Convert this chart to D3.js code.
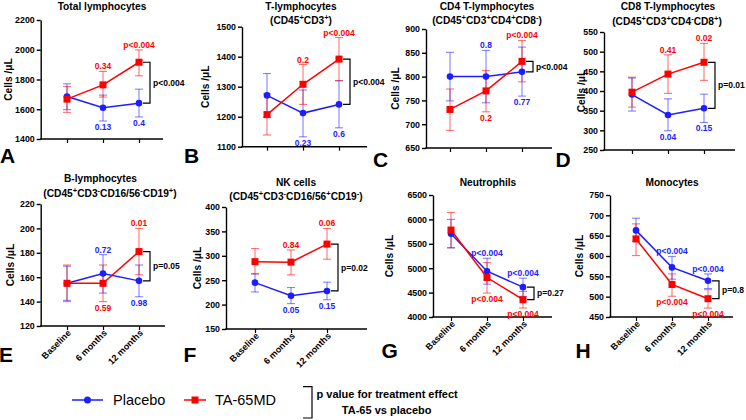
<!DOCTYPE html>
<html><head><meta charset="utf-8">
<script src="https://cdn.jsdelivr.net/npm/d3@7"></script>
<style>
html,body{margin:0;padding:0;background:#fff;}
svg{display:block;font-family:"Liberation Sans",Arial,Helvetica,sans-serif;}
</style></head><body>
<svg id="chart" width="746" height="420"></svg>
<script>
// ---------------- DATA ----------------
const categories = ["Baseline", "6 months", "12 months"];
const seriesNames = ["Placebo", "TA-65MD"];
const panelLetters = ["A", "B", "C", "D", "E", "F", "G", "H"];
const panelTitles = [
  ["Total lymphocytes"],
  ["T-lymphocytes", "(CD45^+CD3^+)"],
  ["CD4 T-lymphocytes", "(CD45^+CD3^+CD4^+CD8^-)"],
  ["CD8 T-lymphocytes", "(CD45^+CD3^+CD4^-CD8^+)"],
  ["B-lymphocytes", "(CD45^+CD3^-CD16/56^-CD19^+)"],
  ["NK cells", "(CD45^+CD3^-CD16/56^+CD19^-)"],
  ["Neutrophils"],
  ["Monocytes"]
];
const yAxisLabel = "Cells /\u03BCL";

const ticksA = [1400, 1600, 1800, 2000, 2200];
const ticksB = [1100, 1200, 1300, 1400, 1500];
const ticksC = [650, 700, 750, 800, 850, 900];
const ticksD = [250, 300, 350, 400, 450, 500, 550];
const ticksE = [120, 140, 160, 180, 200, 220];
const ticksF = [150, 200, 250, 300, 350, 400];
const ticksG = [4000, 4500, 5000, 5500, 6000, 6500];
const ticksH = [450, 500, 550, 600, 650, 700, 750];

// Total lymphocytes
const totalPlacebo = [1686, 1610, 1641], totalPlaceboLo = [1597, 1521, 1548], totalPlaceboHi = [1771, 1695, 1735];
const totalTA65 = [1668, 1764, 1916], totalTA65Lo = [1579, 1682, 1825], totalTA65Hi = [1753, 1854, 1999];
const totalPlaceboP = [null, "0.13", "0.4"], totalTA65P = [null, "0.34", "p<0.004"], totalTreatP = "p<0.004";
// T-lymphocytes
const tPlacebo = [1271, 1212, 1241], tPlaceboLo = [1198, 1133, 1163], tPlaceboHi = [1344, 1289, 1320];
const tTA65 = [1207, 1308, 1392], tTA65Lo = [1139, 1241, 1320], tTA65Hi = [1276, 1374, 1464];
const tPlaceboP = [null, "0.23", "0.6"], tTA65P = [null, "0.2", "p<0.004"], tTreatP = "p<0.004";
// CD4
const cd4Placebo = [800, 800, 810], cd4PlaceboLo = [749, 745, 759], cd4PlaceboHi = [851, 855, 862];
const cd4TA65 = [731, 770, 832], cd4TA65Lo = [687, 726, 789], cd4TA65Hi = [774, 813, 876];
const cd4PlaceboP = [null, "0.8", "0.77"], cd4TA65P = [null, "0.2", "p<0.004"], cd4TreatP = "p<0.004";
// CD8
const cd8Placebo = [391, 339, 356], cd8PlaceboLo = [349, 299, 320], cd8PlaceboHi = [433, 380, 392];
const cd8TA65 = [397, 443, 473], cd8TA65Lo = [359, 394, 427], cd8TA65Hi = [435, 492, 521];
const cd8PlaceboP = [null, "0.04", "0.15"], cd8TA65P = [null, "0.41", "0.02"], cd8TreatP = "p=0.01";
// B-lymphocytes
const bPlacebo = [155, 163, 157], bPlaceboLo = [141, 147, 144], bPlaceboHi = [169, 178.5, 170];
const bTA65 = [155, 155, 181], bTA65Lo = [140, 140, 162], bTA65Hi = [170, 170, 200];
const bPlaceboP = [null, "0.72", "0.98"], bTA65P = [null, "0.59", "0.01"], bTreatP = "p=0.05";
// NK cells
const nkPlacebo = [245, 218, 228], nkPlaceboLo = [226, 202, 210], nkPlaceboHi = [263, 235, 246];
const nkTA65 = [288, 287, 324], nkTA65Lo = [263, 261, 293], nkTA65Hi = [315, 312, 356];
const nkPlaceboP = [null, "0.05", "0.15"], nkTA65P = [null, "0.84", "0.06"], nkTreatP = "p=0.02";
// Neutrophils
const neuPlacebo = [5707, 4938, 4612], neuPlaceboLo = [5415, 4673, 4422], neuPlaceboHi = [6000, 5204, 4796];
const neuTA65 = [5782, 4809, 4354], neuTA65Lo = [5421, 4490, 4184], neuTA65Hi = [6142, 5115, 4524];
const neuPlaceboP = [null, "p<0.004", "p<0.004"], neuTA65P = [null, "p<0.004", "p<0.004"], neuTreatP = "p=0.27";
// Monocytes
const monoPlacebo = [663, 572, 539], monoPlaceboLo = [636, 543, 520], monoPlaceboHi = [693, 599, 556];
const monoTA65 = [642, 530, 495], monoTA65Lo = [601, 501, 472], monoTA65Hi = [679, 556, 517];
const monoPlaceboP = [null, "p<0.004", "p<0.004"], monoTA65P = [null, "p<0.004", "p<0.004"], monoTreatP = "p=0.8";

const legendNote = ["p value for treatment effect", "TA-65 vs placebo"];

// ---------------- BUILD ----------------
const panelData = [
  [ticksA, totalPlacebo, totalPlaceboLo, totalPlaceboHi, totalTA65, totalTA65Lo, totalTA65Hi, totalPlaceboP, totalTA65P, totalTreatP],
  [ticksB, tPlacebo, tPlaceboLo, tPlaceboHi, tTA65, tTA65Lo, tTA65Hi, tPlaceboP, tTA65P, tTreatP],
  [ticksC, cd4Placebo, cd4PlaceboLo, cd4PlaceboHi, cd4TA65, cd4TA65Lo, cd4TA65Hi, cd4PlaceboP, cd4TA65P, cd4TreatP],
  [ticksD, cd8Placebo, cd8PlaceboLo, cd8PlaceboHi, cd8TA65, cd8TA65Lo, cd8TA65Hi, cd8PlaceboP, cd8TA65P, cd8TreatP],
  [ticksE, bPlacebo, bPlaceboLo, bPlaceboHi, bTA65, bTA65Lo, bTA65Hi, bPlaceboP, bTA65P, bTreatP],
  [ticksF, nkPlacebo, nkPlaceboLo, nkPlaceboHi, nkTA65, nkTA65Lo, nkTA65Hi, nkPlaceboP, nkTA65P, nkTreatP],
  [ticksG, neuPlacebo, neuPlaceboLo, neuPlaceboHi, neuTA65, neuTA65Lo, neuTA65Hi, neuPlaceboP, neuTA65P, neuTreatP],
  [ticksH, monoPlacebo, monoPlaceboLo, monoPlaceboHi, monoTA65, monoTA65Lo, monoTA65Hi, monoPlaceboP, monoTA65P, monoTreatP]
];

// layout (positions only)
const layout = [
  {x0: 40.7, x1: 163, c0: 67, yTop: 20, yBot: 139, yLab: 8, tx: [102], ty: [10], lx: 0, ly: 163, bottom: false},
  {x0: 242, x1: 367, c0: 267, yTop: 26.7, yBot: 146.7, yLab: 205, tx: [301, 301], ty: [9.5, 23.5], lx: 184, ly: 163, bottom: false},
  {x0: 426, x1: 552, c0: 450, yTop: 29, yBot: 148, yLab: 395, tx: [487, 487], ty: [10, 23.5], lx: 373, ly: 167, bottom: false},
  {x0: 604, x1: 735, c0: 632, yTop: 32, yBot: 150, yLab: 581, tx: [668, 667], ty: [10, 25], lx: 555.5, ly: 167, bottom: false},
  {x0: 40.7, x1: 165, c0: 67, yTop: 204, yBot: 326, yLab: 10, tx: [100.5, 110], ty: [181.5, 196.5], lx: -1, ly: 362, bottom: true},
  {x0: 226, x1: 367, c0: 255, yTop: 207, yBot: 329, yLab: 197.5, tx: [296, 296], ty: [185.5, 199.5], lx: 183.5, ly: 362, bottom: true},
  {x0: 433, x1: 552, c0: 451, yTop: 195, yBot: 317, yLab: 389, tx: [488], ty: [186], lx: 381.5, ly: 358, bottom: true},
  {x0: 610, x1: 733, c0: 636, yTop: 195, yBot: 317, yLab: 579, tx: [672], ty: [186], lx: 575.5, ly: 358, bottom: true}
];

const BLUE = "#1d1dff", RED = "#ff0000";
const svg = d3.select("#chart");

function richText(sel, str) {
  const parts = str.split(/\^([+\-])/);
  let shifted = false;
  parts.forEach((p, i) => {
    if (i % 2 === 0) {
      if (p === "") return;
      const t = sel.append("tspan").text(p);
      if (shifted) { t.attr("dy", 4); shifted = false; }
    } else {
      const t = sel.append("tspan").text(p === "-" ? "-" : "+").attr("font-size", 7.5);
      t.attr("dy", shifted ? 0 : -4);
      shifted = true;
    }
  });
}

panelData.forEach((d, pi) => {
  const [ticks, pM, pLo, pHi, tM, tLo, tHi, pP, tP, treatP] = d;
  const L = layout[pi];
  const g = svg.append("g");
  const y = d3.scaleLinear().domain([ticks[0], ticks[ticks.length - 1]]).range([L.yBot, L.yTop]);
  const x = d3.scalePoint().domain(categories).range([L.c0, L.c0 + 72]);

  // Title
  panelTitles[pi].forEach((line, li) => {
    const t = g.append("text").attr("x", L.tx[li]).attr("y", L.ty[li])
      .attr("text-anchor", "middle").attr("font-size", 10.2).attr("font-weight", "bold");
    richText(t, line);
  });

  // Y axis
  const ya = g.append("g").attr("transform", `translate(${L.x0},0)`)
    .call(d3.axisLeft(y).tickValues(ticks).tickSize(4).tickPadding(2).tickSizeOuter(0).tickFormat(d3.format("d")));
  ya.selectAll("path,line").attr("stroke", "#000").attr("stroke-width", 1.4);
  ya.selectAll("text").attr("font-size", 8.8).attr("font-weight", "bold").attr("fill", "#000")
    .attr("font-family", '"Liberation Sans",Arial,sans-serif');

  // X axis
  const xa = g.append("g").attr("transform", `translate(0,${L.yBot})`)
    .call(d3.axisBottom(x).tickSize(4).tickSizeOuter(0));
  xa.select(".domain").remove();
  xa.append("line").attr("x1", L.x0 - 0.7).attr("x2", L.x1).attr("y1", 0).attr("y2", 0)
    .attr("stroke", "#000").attr("stroke-width", 1.4);
  xa.selectAll(".tick line").attr("stroke", "#000").attr("stroke-width", 1.2);
  if (L.bottom) {
    xa.selectAll(".tick text")
      .attr("font-size", 9).attr("font-weight", "bold").attr("fill", "#000")
      .attr("font-family", '"Liberation Sans",Arial,sans-serif')
      .attr("text-anchor", "end").attr("dy", 0).attr("y", 0)
      .attr("transform", "translate(4,7.5) rotate(-45)");
  } else {
    xa.selectAll(".tick text").remove();
  }

  // Y label
  g.append("text").attr("transform", `translate(${L.yLab + 3.6},${(L.yTop + L.yBot) / 2}) rotate(-90)`)
    .attr("text-anchor", "middle").attr("font-size", 10.2).attr("font-weight", "bold").text(yAxisLabel);

  // Panel letter
  g.append("text").attr("x", L.lx).attr("y", L.ly).attr("font-size", 21).attr("font-weight", "bold").text(panelLetters[pi]);

  const series = [
    {name: seriesNames[0], m: pM, lo: pLo, hi: pHi, p: pP, color: BLUE, shape: "circle"},
    {name: seriesNames[1], m: tM, lo: tLo, hi: tHi, p: tP, color: RED, shape: "square"}
  ];

  // error bars
  series.forEach(s => {
    const eb = g.append("g").attr("stroke", s.color).attr("stroke-opacity", 0.55).attr("stroke-width", 1.1);
    categories.forEach((c, i) => {
      const cx = x(c);
      eb.append("line").attr("x1", cx).attr("x2", cx).attr("y1", y(s.lo[i])).attr("y2", y(s.hi[i]));
      eb.append("line").attr("x1", cx - 4).attr("x2", cx + 4).attr("y1", y(s.lo[i])).attr("y2", y(s.lo[i]));
      eb.append("line").attr("x1", cx - 4).attr("x2", cx + 4).attr("y1", y(s.hi[i])).attr("y2", y(s.hi[i]));
    });
  });
  // lines + markers
  series.forEach(s => {
    const line = d3.line().x((v, i) => x(categories[i])).y(v => y(v));
    g.append("path").datum(s.m).attr("d", line).attr("fill", "none").attr("stroke", s.color).attr("stroke-width", 1.5);
    s.m.forEach((v, i) => {
      if (s.shape === "circle") {
        g.append("circle").attr("cx", x(categories[i])).attr("cy", y(v)).attr("r", 3.3).attr("fill", s.color);
      } else {
        g.append("rect").attr("x", x(categories[i]) - 3.5).attr("y", y(v) - 3.5).attr("width", 7).attr("height", 7).attr("fill", s.color);
      }
    });
  });

  // p-value labels (higher series above, lower below)
  categories.forEach((c, i) => {
    const upper = series[0].m[i] >= series[1].m[i] ? 0 : 1;
    series.forEach((s, si) => {
      if (!s.p[i]) return;
      const yy = si === upper ? y(s.hi[i]) - 2 : y(s.lo[i]) + 9;
      g.append("text").attr("x", x(c)).attr("y", yy).attr("text-anchor", "middle")
        .attr("font-size", 8.5).attr("font-weight", "bold").attr("fill", s.color).text(s.p[i]);
    });
  });

  // treatment bracket at last timepoint
  const lc = x(categories[2]);
  const yA = y(tM[2]), yB = y(pM[2]);
  g.append("path").attr("d", `M${lc + 4},${yA}H${lc + 11}V${yB}H${lc + 4}`)
    .attr("fill", "none").attr("stroke", "#000").attr("stroke-width", 1.2);
  g.append("text").attr("x", lc + 14).attr("y", (yA + yB) / 2 + 3)
    .attr("font-size", 8.5).attr("font-weight", "bold").attr("fill", "#000").text(treatP);
});

// ---------------- LEGEND ----------------
const lg = svg.append("g");
const ly = 400;
lg.append("line").attr("x1", 72).attr("x2", 103).attr("y1", ly).attr("y2", ly).attr("stroke", BLUE).attr("stroke-width", 1.5);
lg.append("circle").attr("cx", 87.5).attr("cy", ly).attr("r", 3.5).attr("fill", BLUE);
lg.append("text").attr("x", 113).attr("y", ly + 5).attr("font-size", 14.5).text(seriesNames[0]);
lg.append("line").attr("x1", 184).attr("x2", 206).attr("y1", ly).attr("y2", ly).attr("stroke", RED).attr("stroke-width", 1.5);
lg.append("rect").attr("x", 191.5).attr("y", ly - 3.5).attr("width", 7).attr("height", 7).attr("fill", RED);
lg.append("text").attr("x", 215).attr("y", ly + 5).attr("font-size", 14.5).text(seriesNames[1]);
lg.append("path").attr("d", "M303,386.7H312V418H303").attr("fill", "none").attr("stroke", "#000").attr("stroke-width", 1.2);
lg.append("text").attr("x", 316.5).attr("y", 397.5).attr("font-size", 11).attr("font-weight", "bold").text(legendNote[0]);
lg.append("text").attr("x", 386.7).attr("y", 414).attr("text-anchor", "middle").attr("font-size", 11).attr("font-weight", "bold").text(legendNote[1]);
</script>
</body></html>
